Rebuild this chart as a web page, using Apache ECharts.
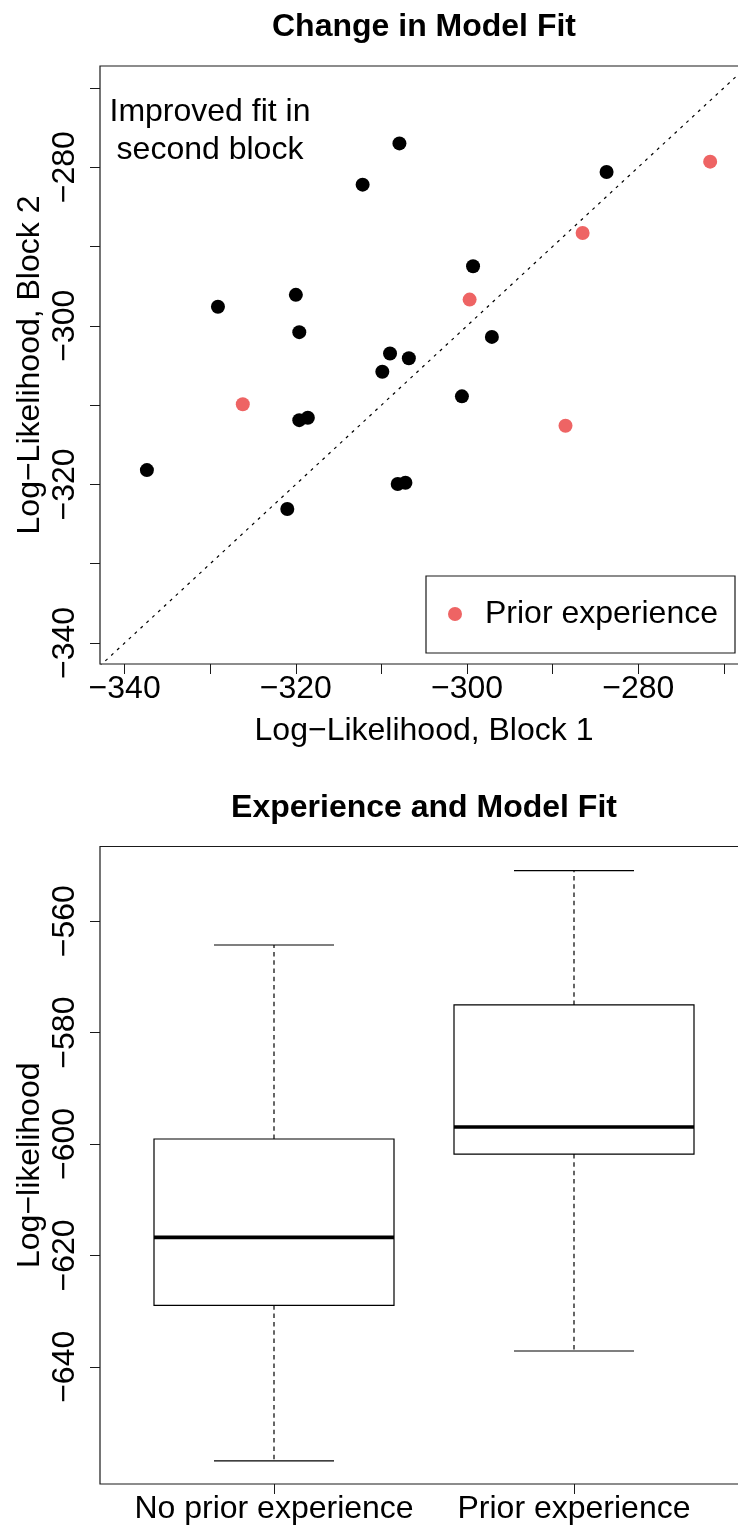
<!DOCTYPE html>
<html>
<head>
<meta charset="utf-8">
<script src="https://cdn.jsdelivr.net/npm/echarts@6/dist/echarts.min.js"></script>
<style>
  html, body { margin: 0; padding: 0; background: #fff; }
  #chart { width: 738px; height: 1531px; }
</style>
</head>
<body>
<div id="chart"></div>
<script>
// Per-participant log-likelihood in block 1 (x) and block 2 (y)
const noPriorBlock1 = [-307.9, -312.2, -329.1, -320.0, -319.6, -309.0, -306.8, -283.7, -299.3,
                       -297.1, -309.9, -319.6, -318.6, -337.4, -321.0, -308.1, -307.2, -300.6];
const noPriorBlock2 = [-277.0, -282.2, -297.6, -296.1, -300.8, -303.5, -304.1, -280.6, -292.5,
                       -301.4, -305.8, -311.9, -311.6, -318.2, -323.1, -319.95, -319.8, -308.9];
const priorBlock1 = [-271.6, -286.5, -299.7, -326.2, -288.5];
const priorBlock2 = [-279.3, -288.3, -296.7, -309.9, -312.6];

const fitTicks = [-340, -330, -320, -310, -300, -290, -280, -270];
const fitTickLabels = [-340, -320, -300, -280];

// Boxplot summaries per group: lower whisker, Q1, median, Q3, upper whisker
const groupNames = ['No prior experience', 'Prior experience'];
const noPriorStats = [-656.9, -628.96, -616.75, -599.1, -564.27];
const priorStats = [-637.16, -601.8, -596.95, -575.04, -550.93];
const boxTicks = [-640, -620, -600, -580, -560];

const FONT = '"Liberation Sans", Arial, Helvetica, sans-serif';
const minus = (v) => String(v).replace('-', '\u2212');

const zip = (a, b) => a.map((v, i) => [v, b[i]]);

const labelStyle = { fontFamily: FONT, fontSize: 32, color: '#000', lineHeight: 32 };
const lineColor = '#1a1a1a';

const chart = echarts.init(document.getElementById('chart'), null, { renderer: 'canvas' });

chart.setOption({
  animation: false,
  backgroundColor: '#fff',
  title: [
    {
      text: 'Change in Model Fit', left: 424, top: 8.6, textAlign: 'center', padding: 0,
      textStyle: { fontFamily: FONT, fontSize: 32, fontWeight: 'bold', color: '#000', lineHeight: 38 }
    },
    {
      text: 'Experience and Model Fit', left: 424, top: 789.6, textAlign: 'center', padding: 0,
      textStyle: { fontFamily: FONT, fontSize: 32, fontWeight: 'bold', color: '#000', lineHeight: 38 }
    }
  ],
  grid: [
    { left: 100, top: 66, width: 648, height: 598, show: true, borderColor: lineColor, borderWidth: 1.2,
      backgroundColor: 'transparent', containLabel: false, outerBoundsMode: 'none' },
    { left: 100, top: 846.5, width: 648, height: 637.5, show: true, borderColor: lineColor, borderWidth: 1.2,
      backgroundColor: 'transparent', containLabel: false, outerBoundsMode: 'none' }
  ],
  xAxis: [
    {
      type: 'value', gridIndex: 0, min: -342.88, max: -267.18,
      axisLine: { show: false }, splitLine: { show: false },
      axisTick: { show: true, length: 10, customValues: fitTicks, lineStyle: { color: lineColor, width: 1 } },
      axisLabel: { ...labelStyle, margin: 9, customValues: fitTickLabels, formatter: minus, hideOverlap: false },
      name: 'Log\u2212Likelihood, Block 1', nameLocation: 'middle', nameGap: 51, nameMoveOverlap: false,
      nameTextStyle: { ...labelStyle }
    },
    {
      type: 'value', gridIndex: 1, min: 0.42, max: 2.58,
      axisLine: { show: false }, splitLine: { show: false },
      axisTick: { show: true, length: 10, customValues: [1, 2], lineStyle: { color: lineColor, width: 1 } },
      axisLabel: { ...labelStyle, margin: 9, customValues: [1, 2], hideOverlap: false,
                   formatter: (v) => groupNames[Math.round(v) - 1] || '' }
    }
  ],
  yAxis: [
    {
      type: 'value', gridIndex: 0, min: -342.65, max: -267.24,
      axisLine: { show: false }, splitLine: { show: false },
      axisTick: { show: true, length: 10, customValues: fitTicks, lineStyle: { color: lineColor, width: 1 } },
      axisLabel: { ...labelStyle, margin: 19, rotate: 90, customValues: fitTickLabels, formatter: minus, hideOverlap: false },
      name: 'Log\u2212Likelihood, Block 2', nameLocation: 'middle', nameGap: 54, nameRotate: 90, nameMoveOverlap: false,
      nameTextStyle: { ...labelStyle }
    },
    {
      type: 'value', gridIndex: 1, min: -661.04, max: -546.59,
      axisLine: { show: false }, splitLine: { show: false },
      axisTick: { show: true, length: 10, customValues: boxTicks, lineStyle: { color: lineColor, width: 1 } },
      axisLabel: { ...labelStyle, margin: 19, rotate: 90, customValues: boxTicks, formatter: minus, hideOverlap: false },
      name: 'Log\u2212likelihood', nameLocation: 'middle', nameGap: 54, nameRotate: 90, nameMoveOverlap: false,
      nameTextStyle: { ...labelStyle }
    }
  ],
  legend: {
    data: ['Prior experience'],
    left: 426, top: 576, orient: 'vertical',
    borderColor: lineColor, borderWidth: 1.2, borderRadius: 0,
    padding: [22, 17, 23, 22],
    itemWidth: 14, itemHeight: 14, icon: 'circle', selectedMode: false,
    textStyle: { ...labelStyle, padding: [0, 0, 0, 18] }
  },
  series: [
    {
      // identity line: equal fit in both blocks
      type: 'line', xAxisIndex: 0, yAxisIndex: 0, silent: true, symbol: 'none', clip: true, z: 4,
      data: [[-345, -345], [-265, -265]],
      lineStyle: { color: '#000', width: 1.2, type: [3, 5] }
    },
    {
      name: 'No prior experience', type: 'scatter', xAxisIndex: 0, yAxisIndex: 0, z: 3,
      data: zip(noPriorBlock1, noPriorBlock2), symbol: 'circle', symbolSize: 14,
      itemStyle: { color: '#000', opacity: 1 }
    },
    {
      name: 'Prior experience', type: 'scatter', xAxisIndex: 0, yAxisIndex: 0, z: 3,
      data: zip(priorBlock1, priorBlock2), symbol: 'circle', symbolSize: 14,
      itemStyle: { color: '#EE6464', opacity: 1 }
    },
    {
      // R-style boxplot: dashed whiskers, short caps, thick median
      type: 'custom', xAxisIndex: 1, yAxisIndex: 1, z: 3,
      data: [[1, ...noPriorStats], [2, ...priorStats]],
      encode: { x: 0, y: [1, 2, 3, 4, 5] },
      renderItem: (params, api) => {
        const x = api.value(0);
        const lo = api.value(1), q1 = api.value(2), med = api.value(3), q3 = api.value(4), hi = api.value(5);
        const half = 0.4, capHalf = 0.2;
        const p = (dx, v) => api.coord([x + dx, v]);
        const seg = (a, b, style) => ({
          type: 'line', shape: { x1: a[0], y1: a[1], x2: b[0], y2: b[1] }, style
        });
        const solid = { stroke: '#000', lineWidth: 1.2 };
        const dashed = { stroke: '#000', lineWidth: 1.2, lineDash: [4.5, 3.8] };
        const tl = p(-half, q3), br = p(half, q1);
        return {
          type: 'group',
          children: [
            seg(p(0, q3), p(0, hi), dashed),
            seg(p(0, q1), p(0, lo), dashed),
            seg(p(-capHalf, hi), p(capHalf, hi), solid),
            seg(p(-capHalf, lo), p(capHalf, lo), solid),
            { type: 'rect', shape: { x: tl[0], y: tl[1], width: br[0] - tl[0], height: br[1] - tl[1] },
              style: { fill: '#fff', stroke: '#000', lineWidth: 1.2 } },
            seg(p(-half, med), p(half, med), { stroke: '#000', lineWidth: 3.7 })
          ]
        };
      }
    }
  ],
  graphic: [
    {
      type: 'text', x: 210, y: 93, z: 10, silent: true,
      style: {
        text: 'Improved fit in\nsecond block', align: 'center', verticalAlign: 'top',
        font: '32px ' + FONT, fill: '#000', lineHeight: 38
      }
    }
  ]
});
</script>
</body>
</html>
